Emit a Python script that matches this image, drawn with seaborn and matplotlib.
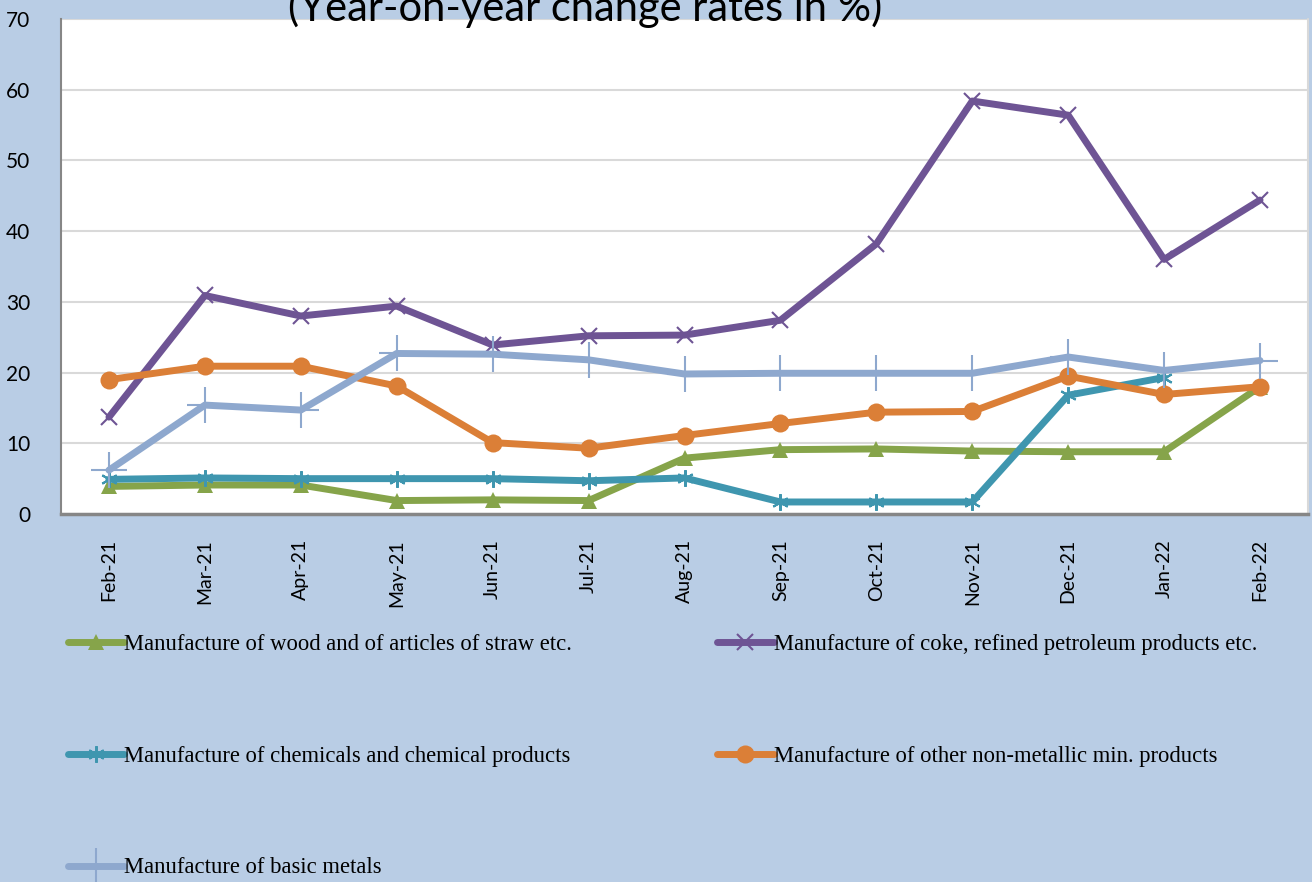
import numpy as np
import pandas as pd
import matplotlib
matplotlib.use('Agg')
import matplotlib.pyplot as plt
import seaborn as sns

# Data (year-on-year change, %)
months = ['Feb-21', 'Mar-21', 'Apr-21', 'May-21', 'Jun-21', 'Jul-21', 'Aug-21',
          'Sep-21', 'Oct-21', 'Nov-21', 'Dec-21', 'Jan-22', 'Feb-22']
wood = [3.9, 4.1, 4.1, 1.9, 2.0, 1.9, 7.9, 9.1, 9.2, 8.9, 8.8, 8.8, 18.0]
coke = [13.7, 30.9, 28.0, 29.4, 23.9, 25.2, 25.3, 27.4, 38.2, 58.4, 56.4, 36.0, 44.4]
chemicals = [4.9, 5.1, 5.0, 5.0, 5.0, 4.7, 5.1, 1.7, 1.7, 1.7, 16.8, 19.3, np.nan]
non_metallic = [19.0, 20.9, 20.9, 18.1, 10.1, 9.3, 11.1, 12.8, 14.4, 14.5, 19.5, 16.9, 18.0]
basic_metals = [6.2, 15.4, 14.7, 22.7, 22.6, 21.8, 19.8, 19.9, 19.9, 19.9, 22.2, 20.3, 21.7]

labels = ['Manufacture of wood and of articles of straw etc.',
          'Manufacture of coke, refined petroleum products etc.',
          'Manufacture of chemicals and chemical products',
          'Manufacture of other non-metallic min. products',
          'Manufacture of basic metals']
colors = ['#86A44A', '#6E5494', '#3F96AF', '#DB7F37', '#8EA8CE']
markers = ['^', 'x', (6, 2, 0), 'o', '+']
msizes = [11, 11, 12, 13, 26]

bg = '#B9CDE5'
sns.set_theme(style='white')
plt.rcParams['font.family'] = ['Lato', 'DejaVu Sans']

fig = plt.figure(figsize=(13.12, 8.82), dpi=100, facecolor=bg)
ax = fig.add_axes([61 / 1312, 1 - 514 / 882, 1247 / 1312, 495 / 882])
ax.set_facecolor('white')

x = np.arange(len(months))
series = [wood, coke, chemicals, non_metallic, basic_metals]
lines = []
for vals, lab, col, mk, ms in zip(series, labels, colors, markers, msizes):
    df = pd.DataFrame({'x': x, 'y': vals}).dropna()
    sns.lineplot(data=df, x='x', y='y', ax=ax, color=col, linewidth=5,
                 marker=mk, markersize=ms, markeredgecolor=col,
                 markeredgewidth=1.5 if mk in ('x', '+') or isinstance(mk, tuple) else 0,
                 solid_joinstyle='round', solid_capstyle='round', label=lab, legend=False)
    lines.append(ax.get_lines()[-1])

ax.set_xlim(-0.5, len(months) - 0.5)
ax.set_ylim(0, 70)
ax.set_yticks(range(0, 71, 10))
ax.set_xticks(x)
ax.set_xticklabels(months, rotation=90, fontsize=14, color='black')
ax.tick_params(axis='y', labelsize=15, pad=22, length=0, labelcolor='black')
ax.tick_params(axis='x', pad=18, length=0)
ax.grid(axis='y', color='#D9D9D9', linewidth=1.5)
ax.set_axisbelow(True)
ax.set_xlabel('')
ax.set_ylabel('')
for side in ['top', 'right']:
    ax.spines[side].set_visible(False)
ax.spines['left'].set_color('#868686')
ax.spines['left'].set_linewidth(1.5)
ax.spines['bottom'].set_color('#868686')
ax.spines['bottom'].set_linewidth(2.5)
ax.plot([1, 1], [0, 1], transform=ax.transAxes, color='#D9D9D9', linewidth=1.5, clip_on=False)

fig.text(585 / 1312, 1 - 8 / 882, '(Year-on-year change rates in %)', fontsize=30,
         ha='center', va='center', color='black')

# legend: row-major in the reference -> column-major order for matplotlib
order = [0, 2, 4, 1, 3]
leg = fig.legend([lines[i] for i in order], [labels[i] for i in order],
                 loc='upper left', bbox_to_anchor=(0.036, 1 - 614 / 882), ncol=2,
                 frameon=False, handlelength=2.5, handletextpad=0.0,
                 columnspacing=6.4, labelspacing=4.0,
                 prop={'family': 'Liberation Serif', 'size': 16.3})
for t in leg.get_texts():
    t.set_color('black')

fig.savefig('out.png', dpi=100, facecolor=bg)
